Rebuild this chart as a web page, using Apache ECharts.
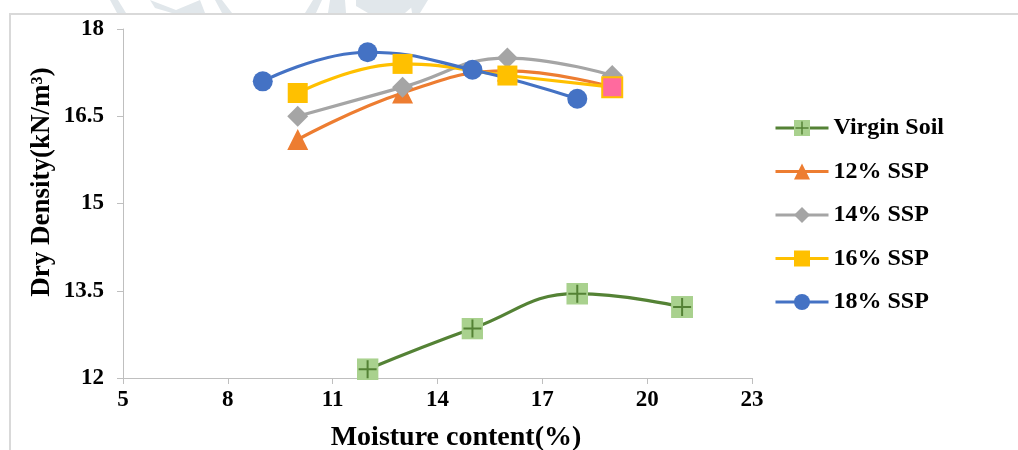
<!DOCTYPE html>
<html>
<head>
<meta charset="utf-8">
<script src="https://cdn.jsdelivr.net/npm/echarts@6/dist/echarts.min.js"></script>
<style>
  html, body { margin: 0; padding: 0; background: #ffffff; }
  #chart { width: 1018px; height: 450px; }
</style>
</head>
<body>
<div id="chart"></div>
<script>
// Compaction test: dry density against moisture content
const seriesNames = ['Virgin Soil', '12% SSP', '14% SSP', '16% SSP', '18% SSP'];
const virginMoisture = [12, 15, 18, 21];
const virginDensity = [12.15, 12.85, 13.45, 13.22];
const sspMoisture = [10, 13, 16, 19];
const ssp12Density = [16.1, 16.9, 17.28, 17.0];
const ssp14Density = [16.5, 17.0, 17.5, 17.2];
const ssp16Density = [16.9, 17.4, 17.2, 17.0];
const ssp18Moisture = [9, 12, 15, 18];
const ssp18Density = [17.1, 17.6, 17.3, 16.8];
const xTicks = [5, 8, 11, 14, 17, 20, 23];
const yTicks = [12, 13.5, 15, 16.5, 18];

const colors = ['#548235', '#ED7D31', '#A5A5A5', '#FFC000', '#4472C4'];
const serif = '"Liberation Serif", "Times New Roman", serif';

// light green square with a dark green cross
const crossSquare = 'image://data:image/svg+xml;charset=utf-8,' + encodeURIComponent(
  "<svg xmlns='http://www.w3.org/2000/svg' width='22' height='22' viewBox='0 0 22 22'>" +
  "<rect width='22' height='22' fill='#A9D18E'/>" +
  "<path d='M11 2V20M2 11H20' stroke='#548235' stroke-width='2'/></svg>");

function pairs(xs, ys) { return xs.map((x, i) => [x, ys[i]]); }

function lineSeries(name, data, color, symbol, size) {
  return {
    name: name,
    type: 'line',
    data: data,
    smooth: 0.45,
    symbol: symbol,
    symbolSize: size,
    showAllSymbol: true,
    lineStyle: { color: color, width: 3.2 },
    itemStyle: { color: color, opacity: 1 },
    emphasis: { disabled: true },
    animation: false,
    z: 2
  };
}

const ssp16Data = pairs(sspMoisture, ssp16Density).map((p, i, arr) =>
  i === arr.length - 1
    ? { value: p, itemStyle: { color: '#FF6A9E', borderColor: '#FFC000', borderWidth: 2 } }
    : p);

const chart = echarts.init(document.getElementById('chart'), null, { renderer: 'canvas' });

chart.setOption({
  backgroundColor: '#ffffff',
  animation: false,
  grid: { left: 123, right: 266, top: 29, bottom: 72, containLabel: false },
  xAxis: {
    type: 'value',
    min: xTicks[0],
    max: xTicks[xTicks.length - 1],
    interval: 3,
    axisLine: { show: true, lineStyle: { color: '#BFBFBF', width: 1 } },
    axisTick: { show: true, length: 6, lineStyle: { color: '#BFBFBF' } },
    splitLine: { show: false },
    axisLabel: { color: '#000', fontFamily: serif, fontWeight: 'bold', fontSize: 23, margin: 11 }
  },
  yAxis: {
    type: 'value',
    min: yTicks[0],
    max: yTicks[yTicks.length - 1],
    interval: 1.5,
    axisLine: { show: true, lineStyle: { color: '#BFBFBF', width: 1 } },
    axisTick: { show: true, length: 6, lineStyle: { color: '#BFBFBF' } },
    splitLine: { show: false },
    axisLabel: { color: '#000', fontFamily: serif, fontWeight: 'bold', fontSize: 23, margin: 19 }
  },
  legend: {
    orient: 'vertical',
    left: 769,
    top: 111,
    itemWidth: 53,
    itemHeight: 20,
    itemGap: 19.5,
    selectedMode: false,
    data: seriesNames,
    lineStyle: { width: 3 },
    textStyle: { color: '#000', fontFamily: serif, fontWeight: 'bold', fontSize: 24, lineHeight: 22, padding: [0, 0, 0, 0] }
  },
  graphic: [
    // watermark fragments above the frame
    { type: 'polygon', shape: { points: [[110, 0], [118, 0], [126, 13], [117, 13]] }, style: { fill: '#E1E7EB' }, silent: true },
    { type: 'polygon', shape: { points: [[150, 0], [176, 10], [200, 0], [205, 13], [172, 13], [155, 8]] }, style: { fill: '#E1E7EB' }, silent: true },
    { type: 'polygon', shape: { points: [[215, 0], [222, 0], [232, 13], [222, 13]] }, style: { fill: '#E1E7EB' }, silent: true },
    { type: 'polygon', shape: { points: [[313, 0], [322, 0], [316, 13], [305, 13]] }, style: { fill: '#E1E7EB' }, silent: true },
    { type: 'polygon', shape: { points: [[330, 0], [345, 0], [346, 13], [328, 13]] }, style: { fill: '#E1E7EB' }, silent: true },
    { type: 'polygon', shape: { points: [[356, 0], [400, 0], [420, 0], [405, 13], [368, 13], [356, 6]] }, style: { fill: '#E1E7EB' }, silent: true },
    { type: 'polygon', shape: { points: [[410, 0], [428, 0], [420, 13], [412, 13]] }, style: { fill: '#E1E7EB' }, silent: true },
    // chart frame
    { type: 'rect', shape: { x: 10, y: 14, width: 1100, height: 500 }, style: { fill: null, stroke: '#D9D9D9', lineWidth: 2 }, silent: true, z: -1 },
    // axis titles
    {
      type: 'text', x: 42, y: 182, rotation: Math.PI / 2,
      style: { text: 'Dry Density(kN/m³)', fill: '#000', font: 'bold 27px ' + serif, align: 'center', verticalAlign: 'middle' }
    },
    {
      type: 'text', x: 456, y: 438,
      style: { text: 'Moisture content(%)', fill: '#000', font: 'bold 28px ' + serif, align: 'center', verticalAlign: 'middle' }
    }
  ],
  series: [
    lineSeries(seriesNames[0], pairs(virginMoisture, virginDensity), colors[0], crossSquare, 22),
    lineSeries(seriesNames[1], pairs(sspMoisture, ssp12Density), colors[1], 'triangle', 21),
    lineSeries(seriesNames[2], pairs(sspMoisture, ssp14Density), colors[2], 'diamond', 21),
    lineSeries(seriesNames[3], ssp16Data, colors[3], 'rect', 20),
    lineSeries(seriesNames[4], pairs(ssp18Moisture, ssp18Density), colors[4], 'circle', 20)
  ]
});
</script>
</body>
</html>
